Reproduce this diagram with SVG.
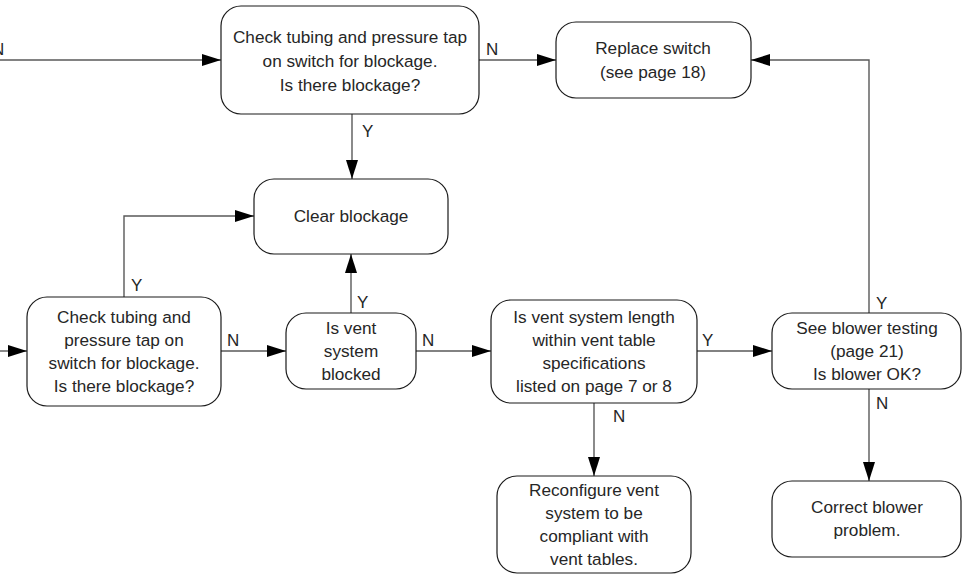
<svg xmlns="http://www.w3.org/2000/svg" width="965" height="582" viewBox="0 0 965 582">
<style>
.box{fill:#fff;stroke:#1a1a1a;stroke-width:1.2}
.t{font-family:"Liberation Sans",Arial,sans-serif;font-size:17.2px;fill:#262626;text-anchor:middle}
.lbl{font-family:"Liberation Sans",Arial,sans-serif;font-size:17px;fill:#262626}
.c{fill:none;stroke:#595959;stroke-width:1.4}
</style>
<defs>
<marker id="ah" markerUnits="userSpaceOnUse" markerWidth="19" markerHeight="12" refX="19" refY="6" orient="auto">
<path d="M0,0 L19,6 L0,12 z" fill="#000"/>
</marker>
</defs>
<rect width="965" height="582" fill="#fff"/>
<g id="connectors">
<path class="c" d="M-5,60 H221" marker-end="url(#ah)"/>
<path class="c" d="M479,60 H556" marker-end="url(#ah)"/>
<path class="c" d="M352,114 V179" marker-end="url(#ah)"/>
<path class="c" d="M124,297 V216 H254" marker-end="url(#ah)"/>
<path class="c" d="M-5,351 H27" marker-end="url(#ah)"/>
<path class="c" d="M221,351 H286" marker-end="url(#ah)"/>
<path class="c" d="M351,313 V254" marker-end="url(#ah)"/>
<path class="c" d="M416,351 H491" marker-end="url(#ah)"/>
<path class="c" d="M697,351 H772" marker-end="url(#ah)"/>
<path class="c" d="M594,403 V476" marker-end="url(#ah)"/>
<path class="c" d="M869,389 V481" marker-end="url(#ah)"/>
<path class="c" d="M869,313 V60 H751" marker-end="url(#ah)"/>
<text class="lbl" x="-8" y="55">N</text>
<text class="lbl" x="486" y="55">N</text>
<text class="lbl" x="362" y="137">Y</text>
<text class="lbl" x="131" y="291">Y</text>
<text class="lbl" x="227" y="346">N</text>
<text class="lbl" x="357" y="308">Y</text>
<text class="lbl" x="422" y="346">N</text>
<text class="lbl" x="702" y="346">Y</text>
<text class="lbl" x="613" y="422">N</text>
<text class="lbl" x="876" y="309">Y</text>
<text class="lbl" x="876" y="409">N</text>
</g>
<g id="check-top">
<rect class="box" x="221" y="6" width="258" height="108" rx="20"/>
<text class="t" x="350" y="43">Check tubing and pressure tap</text>
<text class="t" x="350" y="67">on switch for blockage.</text>
<text class="t" x="350" y="91">Is there blockage?</text>
</g>
<g id="replace-switch">
<rect class="box" x="556" y="22" width="195" height="76" rx="20"/>
<text class="t" x="653" y="54">Replace switch</text>
<text class="t" x="653" y="78">(see page 18)</text>
</g>
<g id="clear-blockage">
<rect class="box" x="254" y="179" width="194" height="75" rx="20"/>
<text class="t" x="351" y="222">Clear blockage</text>
</g>
<g id="check-left">
<rect class="box" x="27" y="297" width="194" height="109" rx="20"/>
<text class="t" x="124" y="323">Check tubing and</text>
<text class="t" x="124" y="346">pressure tap on</text>
<text class="t" x="124" y="369">switch for blockage.</text>
<text class="t" x="124" y="392">Is there blockage?</text>
</g>
<g id="vent-blocked">
<rect class="box" x="286" y="313" width="130" height="76" rx="20"/>
<text class="t" x="351" y="334">Is vent</text>
<text class="t" x="351" y="357">system</text>
<text class="t" x="351" y="380">blocked</text>
</g>
<g id="vent-length">
<rect class="box" x="491" y="300" width="206" height="103" rx="20"/>
<text class="t" x="594" y="323">Is vent system length</text>
<text class="t" x="594" y="346">within vent table</text>
<text class="t" x="594" y="369">specifications</text>
<text class="t" x="594" y="392">listed on page 7 or 8</text>
</g>
<g id="blower-test">
<rect class="box" x="772" y="313" width="189" height="76" rx="20"/>
<text class="t" x="867" y="334">See blower testing</text>
<text class="t" x="867" y="357">(page 21)</text>
<text class="t" x="867" y="380">Is blower OK?</text>
</g>
<g id="reconfigure">
<rect class="box" x="497" y="476" width="194" height="97" rx="20"/>
<text class="t" x="594" y="496">Reconfigure vent</text>
<text class="t" x="594" y="519">system to be</text>
<text class="t" x="594" y="542">compliant with</text>
<text class="t" x="594" y="565">vent tables.</text>
</g>
<g id="correct-blower">
<rect class="box" x="772" y="481" width="189" height="76" rx="20"/>
<text class="t" x="867" y="513">Correct blower</text>
<text class="t" x="867" y="536">problem.</text>
</g>
</svg>
